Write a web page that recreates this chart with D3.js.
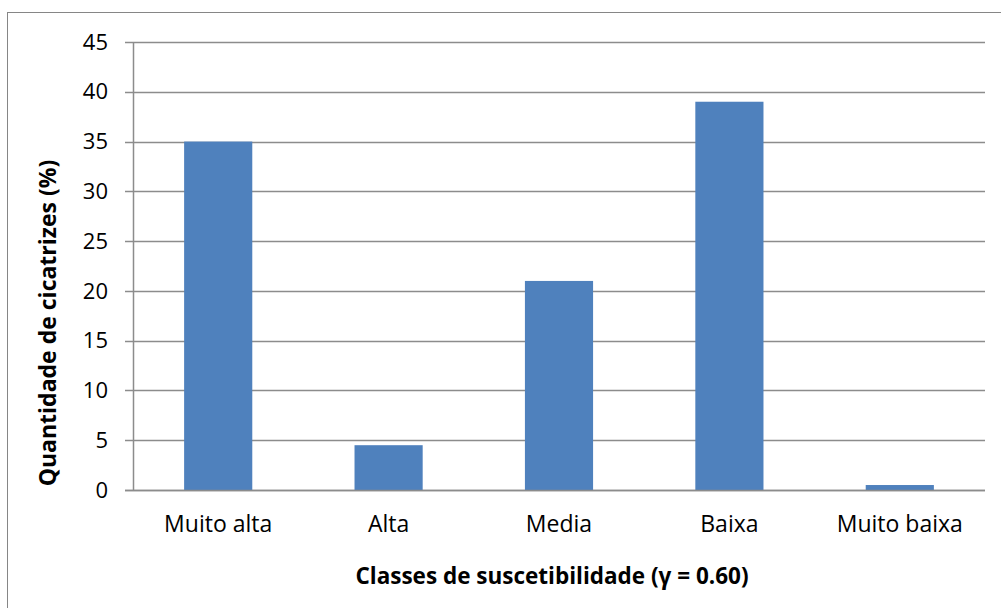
<!DOCTYPE html>
<html>
<head>
<meta charset="utf-8">
<script src="https://cdn.jsdelivr.net/npm/d3@7"></script>
<style>
  html, body { margin: 0; padding: 0; background: #fff; }
  svg { display: block; }
  text { font-family: "Open Sans", "Noto Sans", sans-serif; fill: #000; }
</style>
</head>
<body>
<svg id="chart" width="1001" height="608"></svg>
<script>
const categories = ["Muito alta", "Alta", "Media", "Baixa", "Muito baixa"];
const values = [35, 4.5, 21, 39, 0.5];
const yTicks = [0, 5, 10, 15, 20, 25, 30, 35, 40, 45];

const svg = d3.select("#chart");
const W = 1001, H = 608;
const plot = { left: 133, right: 985, top: 42, bottom: 490 };

// outer frame
svg.append("rect")
  .attr("x", 7.5).attr("y", 12.5)
  .attr("width", W + 10).attr("height", H + 10)
  .attr("fill", "#fff").attr("stroke", "#868686").attr("stroke-width", 1);

const x = d3.scaleBand().domain(categories)
  .range([plot.left, plot.right]).paddingInner(0.6).paddingOuter(0.3);
const y = d3.scaleLinear().domain([0, 45]).range([plot.bottom, plot.top]);

// gridlines
svg.append("g").selectAll("line").data(yTicks).join("line")
  .attr("x1", plot.left - 8).attr("x2", plot.right)
  .attr("y1", d => Math.round(y(d)) + 0.5).attr("y2", d => Math.round(y(d)) + 0.5)
  .attr("stroke", "#8c8c8c").attr("stroke-width", 1.5);

// y axis line
svg.append("line")
  .attr("x1", plot.left + 0.5).attr("x2", plot.left + 0.5)
  .attr("y1", plot.top).attr("y2", plot.bottom + 1)
  .attr("stroke", "#8c8c8c").attr("stroke-width", 1.5);

// bars
svg.append("g").selectAll("rect").data(categories).join("rect")
  .attr("x", d => x(d))
  .attr("width", x.bandwidth())
  .attr("y", (d, i) => y(values[i]))
  .attr("height", (d, i) => y(0) - y(values[i]))
  .attr("fill", "#4F81BD");

// redraw baseline over bars
svg.append("line")
  .attr("x1", plot.left - 8).attr("x2", plot.right)
  .attr("y1", Math.round(y(0)) + 0.5).attr("y2", Math.round(y(0)) + 0.5)
  .attr("stroke", "#8c8c8c").attr("stroke-width", 1.5);

// y tick labels
svg.append("g").selectAll("text").data(yTicks).join("text")
  .attr("x", 108).attr("y", d => y(d))
  .attr("dy", "0.35em")
  .attr("text-anchor", "end")
  .attr("font-size", 22)
  .text(d => d);

// x tick labels
svg.append("g").selectAll("text").data(categories).join("text")
  .attr("x", d => x(d) + x.bandwidth() / 2).attr("y", 524)
  .attr("dy", "0.35em")
  .attr("text-anchor", "middle")
  .attr("font-size", 23)
  .text(d => d);

// axis titles
svg.append("text")
  .attr("x", 552).attr("y", 576)
  .attr("dy", "0.35em")
  .attr("text-anchor", "middle")
  .attr("font-size", 22.5).attr("font-weight", "bold")
  .text("Classes de suscetibilidade (γ = 0.60)");

svg.append("text")
  .attr("transform", "translate(48,323) rotate(-90)")
  .attr("dy", "0.35em")
  .attr("text-anchor", "middle")
  .attr("font-size", 23).attr("font-weight", "bold")
  .text("Quantidade de cicatrizes (%)");
</script>
</body>
</html>
